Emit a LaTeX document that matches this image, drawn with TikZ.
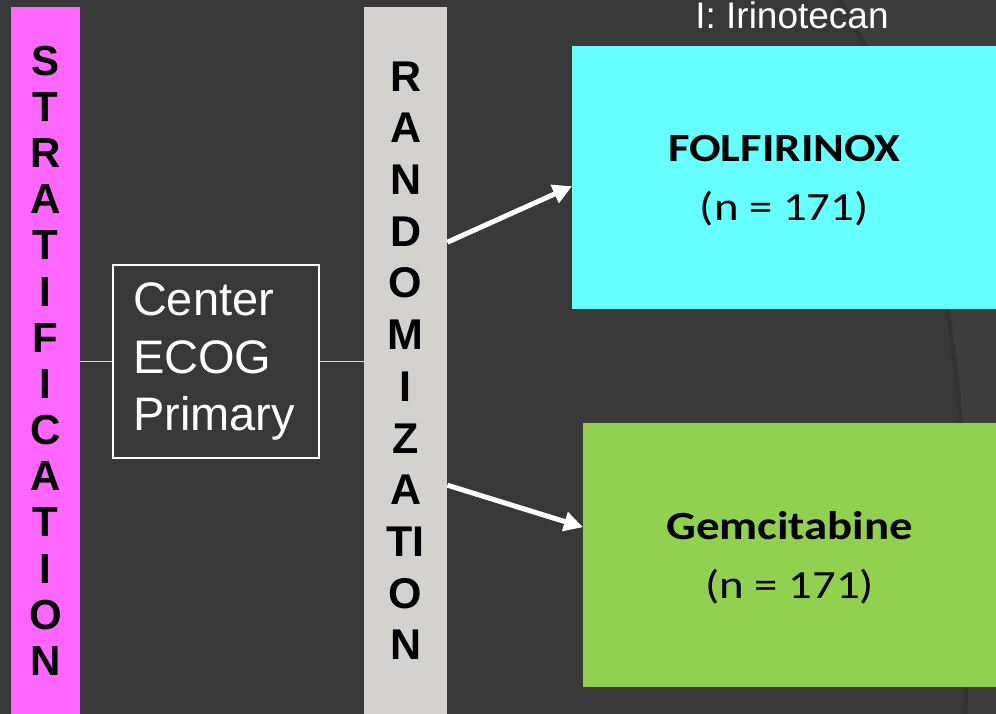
\documentclass[tikz,border=0pt]{standalone}
\usepackage{fontspec}
\setmainfont{Liberation Sans}
\newfontfamily\calibri[FakeStretch=1.17]{Carlito}
\usetikzlibrary{arrows.meta,positioning}
\definecolor{slide}{HTML}{383838}
\definecolor{slidelight}{HTML}{3D3D3D}
\definecolor{slideshade}{HTML}{313131}
\definecolor{strat}{HTML}{FF66FF}
\definecolor{randgray}{HTML}{D3D2CF}
\definecolor{folfcyan}{HTML}{66FFFF}
\definecolor{gemgreen}{HTML}{92D050}

\begin{document}
\begin{tikzpicture}[x=1pt,y=-1pt,
    bar/.style={anchor=north west,inner sep=0pt,minimum width=#1,minimum height=707pt,align=center},
    arm/.style={anchor=north west,inner sep=0pt,align=center,text depth=0pt,font=\calibri\fontsize{40}{59}\selectfont},
    link/.style={draw=white!85!black,line width=1.3pt},
    flow/.style={white,line width=5pt,-{Triangle[length=19pt,width=19pt]}}
]
\fill[slide] (0,0) rectangle (996,714); % slide background
\useasboundingbox (0,0) rectangle (996,714);
\clip (0,0) rectangle (996,714);
\fill[slidelight] (843,0) .. controls (960,200) and (975,420) .. (968,714) -- (996,714) -- (996,0) -- cycle; % lighter panel on the right
\draw[slideshade,line width=4pt,opacity=0.6] (840,0) .. controls (957,200) and (972,420) .. (965,714); % its shadowed edge

% the two vertical bars
\node[bar=69pt,fill=strat,font=\fontsize{42}{46.15}\selectfont\bfseries] (strat) at (11,7) {S\\T\\R\\A\\T\\I\\F\\I\\C\\A\\T\\I\\O\\N};
\node[bar=83pt,fill=randgray,font=\fontsize{43}{51.7}\selectfont\bfseries] (rand) at (364,7) {R\\A\\N\\D\\O\\M\\I\\Z\\A\\TI\\O\\N};

% stratification factors
\node[draw=white,line width=1.3pt,text=white,minimum width=206pt,minimum height=193pt,text width=166pt,inner xsep=20pt,align=left,font=\fontsize{47}{57.5}\selectfont] (crit) at (216,361.5) {Center\\ECOG\\Primary};
\draw[link] (strat.east |- crit.west) -- (crit.west);
\draw[link] (crit.east) -- (rand.west |- crit.east);

% treatment arms
\node[arm,fill=folfcyan,minimum width=424pt,minimum height=263pt] (folf) at (572,46) {{\bfseries FOLFIRINOX}\\(n = 171)};
\node[arm,fill=gemgreen,minimum width=413pt,minimum height=264pt] (gem) at (583,423) {{\bfseries Gemcitabine}\\(n = 171)};
\node[white,anchor=base,font=\fontsize{37}{44}\selectfont] (irino) at (792,29) {I: Irinotecan};

\draw[flow] ([yshift=118.5pt]rand.east) -- ([yshift=-8.5pt]folf.west); % upper arm
\draw[flow] ([yshift=-124.5pt]rand.east) -- ([yshift=28pt]gem.west); % lower arm
\end{tikzpicture}
\end{document}
